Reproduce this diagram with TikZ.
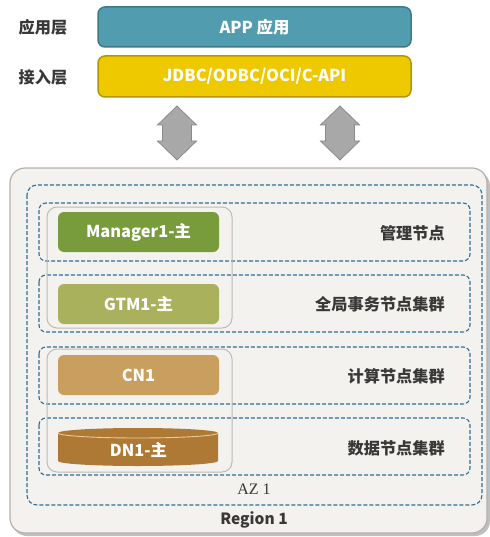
\documentclass[tikz,border=0pt]{standalone}
\usepackage{fontspec}
\setmainfont{Noto Sans CJK SC}
\newfontfamily\azfont{Liberation Serif}
\usetikzlibrary{shapes.geometric}
\definecolor{appc}{HTML}{519DAF}
\definecolor{appd}{HTML}{3C7A8A}
\definecolor{jdbcc}{HTML}{EEC900}
\definecolor{jdbcd}{HTML}{B59500}
\definecolor{mgrc}{HTML}{789B3B}
\definecolor{gtmc}{HTML}{A9B15D}
\definecolor{cnc}{HTML}{C99E5F}
\definecolor{dnc}{HTML}{AE7935}
\definecolor{dnrim}{HTML}{EBCB9E}
\definecolor{regc}{HTML}{F4F2EE}
\definecolor{regd}{HTML}{B3AFAA}
\definecolor{dashc}{HTML}{2F6F98}
\definecolor{grpc}{HTML}{BEBAB5}
\definecolor{arrc}{HTML}{A8A8A8}
\definecolor{arrd}{HTML}{8A8A8A}
\definecolor{txtc}{HTML}{383838}
\tikzset{
  layerbox/.style={rounded corners=7pt, line width=1.5pt},
  nodebox/.style={rounded corners=6pt, draw=none},
  boxtext/.style={text=white, font=\bfseries\fontsize{16.4}{18}\selectfont, inner sep=0pt},
  sidetext/.style={text=txtc, font=\bfseries\fontsize{16.2}{18}\selectfont, inner sep=0pt},
  dashbox/.style={draw=dashc, line width=1.1pt, dash pattern=on 4pt off 2pt, rounded corners=7pt},
  grpbox/.style={draw=grpc, line width=1pt, rounded corners=10pt},
  bigarrow/.style={fill=arrc, draw=arrd, line width=0.8pt, line join=miter}
}
\begin{document}
\begin{tikzpicture}[x=1pt,y=-1pt]
\useasboundingbox (0,0) rectangle (489,537);
% top layers
\draw[layerbox, fill=appc, draw=appd] (98,7) rectangle (411,47);
\node[boxtext] (app) at (254.5,27) {APP 应用};
\draw[layerbox, fill=jdbcc, draw=jdbcd] (98,56) rectangle (411,97);
\node[boxtext] (jdbc) at (254.5,76.5) {JDBC/ODBC/OCI/C-API};
\node[sidetext] (l1) at (43,27) {应用层};
\node[sidetext] (l2) at (43,77) {接入层};
% double arrows
\foreach \cx in {177,340}{
  \draw[bigarrow] (\cx,106) -- (\cx+19.5,125) -- (\cx+14.5,125) -- (\cx+14.5,141)
    -- (\cx+19.5,141) -- (\cx,160) -- (\cx-19.5,141) -- (\cx-14.5,141)
    -- (\cx-14.5,125) -- (\cx-19.5,125) -- cycle;
}
% region
\fill[black!25, rounded corners=15pt] (12,171) rectangle (490,536);
\draw[fill=regc, draw=regd, line width=1.2pt, rounded corners=15pt] (10,168) rectangle (487,533);
\draw[dashbox, rounded corners=10pt] (27,185) rectangle (482,505);
\draw[dashbox] (39,203) rectangle (470,261);
\draw[dashbox] (39,275) rectangle (470,332);
\draw[dashbox] (39,347) rectangle (470,404);
\draw[dashbox] (39,418) rectangle (470,475);
\draw[grpbox] (47,207) rectangle (232,328);
\draw[grpbox] (47,349) rectangle (232,472);
% node boxes
\fill[nodebox, fill=mgrc] (58,212) rectangle (219,252);
\node[boxtext] (mgr) at (138.5,232) {Manager1-主};
\fill[nodebox, fill=gtmc] (58,284) rectangle (219,324);
\node[boxtext] (gtm) at (138.5,304) {GTM1-主};
\fill[nodebox, fill=cnc] (58,355) rectangle (219,395);
\node[boxtext] (cn) at (138.5,375) {CN1};
% DN cylinder (y axis points down: angle 90 is screen-down)
\fill[dnc] (58,433) -- (58,461) arc[start angle=180, end angle=0, x radius=80, y radius=5]
  -- (218,433) arc[start angle=0, end angle=-180, x radius=80, y radius=5] -- cycle;
\draw[dnrim, line width=0.9pt] (58,433) arc[start angle=180, end angle=0, x radius=80, y radius=5];
\node[boxtext] (dn) at (138.5,450) {DN1-主};
% side labels
\node[sidetext, anchor=east] (s1) at (445,233) {管理节点};
\node[sidetext, anchor=east] (s2) at (445,304) {全局事务节点集群};
\node[sidetext, anchor=east] (s3) at (445,376) {计算节点集群};
\node[sidetext, anchor=east] (s4) at (445,448) {数据节点集群};
\node[text=txtc, font=\azfont\fontsize{16}{18}\selectfont, inner sep=0pt] (az) at (254,489) {AZ 1};
\node[text=txtc, font=\bfseries\fontsize{15.5}{18}\selectfont, inner sep=0pt] (reg) at (254,520) {Region 1};
\end{tikzpicture}
\end{document}
